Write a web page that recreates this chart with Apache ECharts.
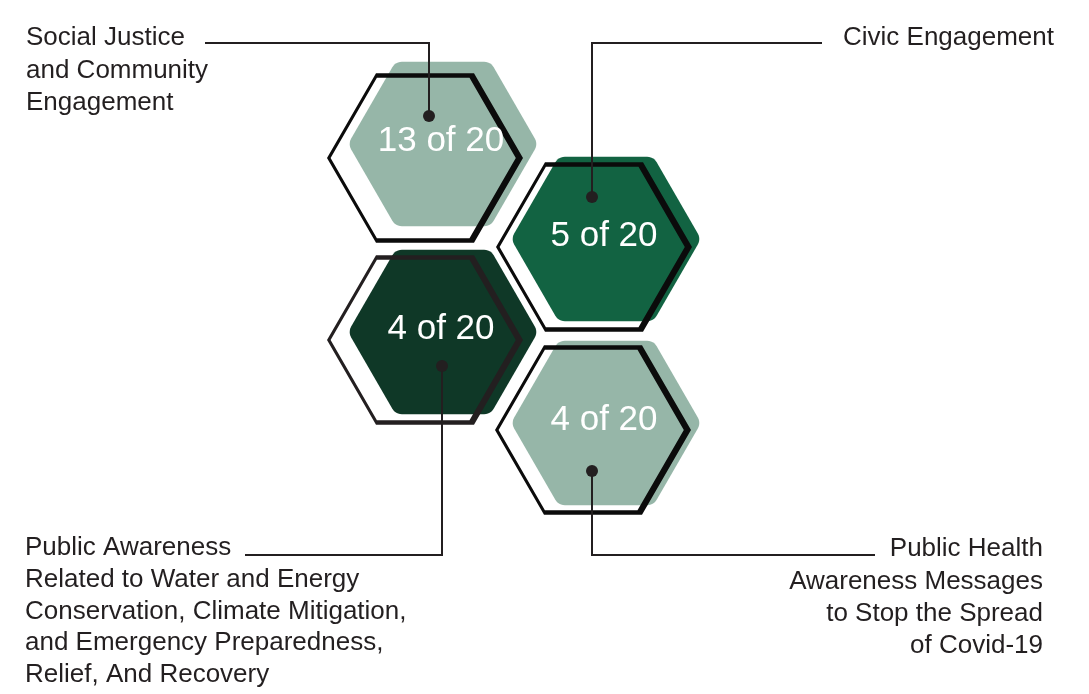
<!DOCTYPE html>
<html><head><meta charset="utf-8">
<script src="https://cdn.jsdelivr.net/npm/echarts@6/dist/echarts.min.js"></script>
<style>html,body{margin:0;padding:0;background:#fff}#c{width:1089px;height:694px}</style>
</head><body><div id="c"></div>
<script>
// ---- data ----
const categories = [
  'Social Justice\nand Community\nEngagement',
  'Civic Engagement',
  'Public Awareness\nRelated to Water and Energy\nConservation, Climate Mitigation,\nand Emergency Preparedness,\nRelief, And Recovery',
  'Public Health\nAwareness Messages\nto Stop the Spread\nof Covid-19'
];
const counts = [13, 5, 4, 4];
const totals = [20, 20, 20, 20];

// ---- layout (canvas pixel space, mapped through hidden axes) ----
const fillColors = ['#96b6a8', '#126342', '#0f3827', '#96b6a8'];
const ringColors = ['#0b0b0b', '#0b0b0b', '#231f20', '#0b0b0b'];
const fillCenters = [[443,144],[606,239],[443,332],[606,423]];
const ringCenters = [[425,158],[594,247],[425,340],[593,430]];
const dotPos = [[429,116],[592,197],[442,366],[592,471]];
const leaderPaths = [
  [[429,116],[429,43],[205,43]],
  [[592,197],[592,43],[822,43]],
  [[442,366],[442,555],[245,555]],
  [[592,471],[592,555],[875,555]]
];
const labelPos = [[26,22,'left',32.3],[1054,22,'right',32],[25,532,'left',31.8],[1043,533,'right',32.3]];
const FONT = '"Liberation Sans", Arial, Helvetica, sans-serif';

function hexPts(cx, cy, R) {
  const p = [];
  for (let k = 0; k < 6; k++) {
    const a = Math.PI / 3 * k;
    p.push([cx + R * Math.cos(a), cy + R * Math.sin(a)]);
  }
  return p;
}
function roundHexPts(cx, cy, R, r) {
  const p = [];
  const d = R - r / Math.sin(Math.PI / 3);
  for (let k = 0; k < 6; k++) {
    const th = Math.PI / 3 * k;
    const ccx = cx + d * Math.cos(th), ccy = cy + d * Math.sin(th);
    for (let j = 0; j <= 6; j++) {
      const a = th - Math.PI / 6 + (Math.PI / 3) * j / 6;
      p.push([ccx + r * Math.cos(a), ccy + r * Math.sin(a)]);
    }
  }
  return p;
}

const chart = echarts.init(document.getElementById('c'), null, {renderer: 'canvas'});

const hexData = counts.map((v, i) => [i, v, totals[i]]);
const labelData = categories.map((c, i) => [i]);

chart.setOption({
  animation: false,
  backgroundColor: '#ffffff',
  grid: {left: 0, right: 0, top: 0, bottom: 0},
  xAxis: {type: 'value', min: 0, max: 1089, show: false},
  yAxis: {type: 'value', min: 0, max: 694, inverse: true, show: false},
  series: [
    {
      type: 'custom', z: 2,
      data: hexData,
      renderItem: function (params, api) {
        const i = api.value(0);
        const val = api.value(1), tot = api.value(2);
        const s = api.size([1, 0])[0];
        const fc = api.coord(fillCenters[i]);
        const rc = api.coord(ringCenters[i]);
        const fill = roundHexPts(fc[0], fc[1], 95 * s, 11 * s);
        const outer = hexPts(rc[0], rc[1], 98 * s);
        const inner = hexPts(rc[0] - 1.8 * s, rc[1], 92.6 * s);
        const ring = outer.concat([outer[0], inner[0]], inner.slice(1).reverse(), [inner[0]]);
        return {
          type: 'group',
          children: [
            {type: 'polygon', shape: {points: fill}, style: {fill: fillColors[i]}},
            {type: 'polygon', shape: {points: ring}, style: {fill: ringColors[i]}},
            {type: 'text', style: {text: val + ' of ' + tot, x: fc[0] - 2, y: fc[1] - 3,
              fill: '#ffffff', fontSize: 35, fontFamily: FONT, fontWeight: 'normal',
              align: 'center', verticalAlign: 'middle'}}
          ]
        };
      }
    },
    {
      type: 'custom', z: 5,
      data: labelData,
      renderItem: function (params, api) {
        const i = api.value(0);
        const pts = leaderPaths[i].map(p => api.coord(p));
        const d = api.coord(dotPos[i]);
        const lp = labelPos[i];
        const lc = api.coord([lp[0], lp[1]]);
        return {
          type: 'group',
          children: [
            {type: 'polyline', shape: {points: pts}, style: {stroke: '#231f20', lineWidth: 2, fill: null}},
            {type: 'circle', shape: {cx: d[0], cy: d[1], r: 6}, style: {fill: '#231f20'}},
            {type: 'text', style: {text: categories[i], x: lc[0], y: lc[1], fill: '#231f20',
              fontSize: 26, fontFamily: FONT, lineHeight: lp[3], align: lp[2], verticalAlign: 'top'}}
          ]
        };
      }
    }
  ]
});
</script>
</body></html>
